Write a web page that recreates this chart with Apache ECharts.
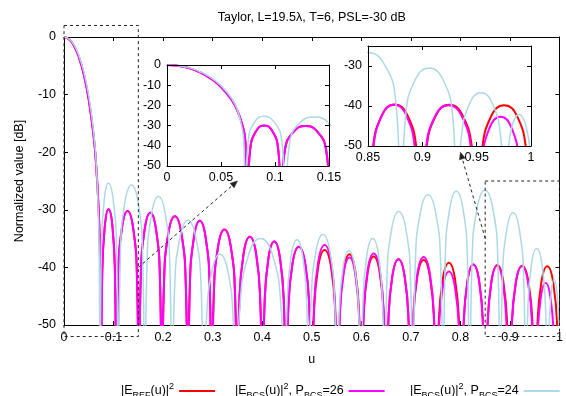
<!DOCTYPE html>
<html><head><meta charset="utf-8">
<script src="https://cdn.jsdelivr.net/npm/echarts@6/dist/echarts.min.js"></script>
<style>html,body{margin:0;padding:0;background:#fff}#c{width:566px;height:396px}</style>
</head><body><div id="c"></div>
<script>
const titleText = 'Taylor, L=19.5\u03bb, T=6, PSL=-30 dB';
const xLabel = 'u';
const yLabel = 'Normalized value [dB]';
const seriesNames = ['ref', 'bcs26', 'bcs24'];
const legendLabels = {
  ref: '|E{s|REF}(u)|{p|2}',
  bcs26: '|E{s|BCS}(u)|{p|2}, P{s|BCS}=26',
  bcs24: '|E{s|BCS}(u)|{p|2}, P{s|BCS}=24'
};
const colors = ['#ff0000', '#ff00ff', '#add8e6'];
const widths = [2, 2, 1.5];

// |E_REF(u)|^2 [u, dB]
const eRef = [
[0,0],[0.01,-0.4],[0.02,-1.5],[0.03,-3.5],[0.04,-6.5],[0.05,-10.9],[0.06,-17.4],[0.065,-22.4],[0.07,-30.1],[0.0725,-37.3],
[0.0745,-65],[0.077,-41.9],[0.0823,-32.9],[0.09,-29.9],[0.0978,-32.9],[0.103,-41.9],
[0.1055,-65],[0.1091,-42.2],[0.1169,-33.2],[0.1283,-30.2],[0.1396,-33.2],[0.1474,-42.2],
[0.151,-65],[0.1547,-42.5],[0.1626,-33.5],[0.1743,-30.5],[0.1859,-33.5],[0.1938,-42.5],
[0.1975,-65],[0.2017,-43.1],[0.2106,-34.1],[0.2238,-31.1],[0.2369,-34.1],[0.2458,-43.1],
[0.25,-65],[0.2538,-43.9],[0.262,-34.9],[0.274,-31.9],[0.286,-34.9],[0.2942,-43.9],
[0.298,-65],[0.3021,-45.4],[0.3109,-36.4],[0.3238,-33.4],[0.3366,-36.4],[0.3454,-45.4],
[0.3495,-65],[0.3536,-46.7],[0.3623,-37.7],[0.375,-34.7],[0.3878,-37.7],[0.3964,-46.7],
[0.4005,-65],[0.4043,-47.5],[0.4124,-38.5],[0.4243,-35.5],[0.4361,-38.5],[0.4442,-47.5],
[0.448,-65],[0.4521,-48.4],[0.461,-39.4],[0.4739,-36.4],[0.4869,-39.4],[0.4957,-48.4],
[0.4998,-65],[0.504,-49],[0.5129,-40],[0.5259,-37],[0.539,-40],[0.5478,-49],
[0.552,-65],[0.5558,-49.7],[0.564,-40.7],[0.576,-37.7],[0.588,-40.7],[0.5962,-49.7],
[0.6,-65],[0.604,-50.1],[0.6125,-41.1],[0.625,-38.1],[0.6375,-41.1],[0.646,-50.1],
[0.65,-65],[0.654,-50.6],[0.6625,-41.6],[0.675,-38.6],[0.6875,-41.6],[0.696,-50.6],
[0.7,-65],[0.7041,-50.7],[0.7129,-41.7],[0.7258,-38.7],[0.7386,-41.7],[0.7474,-50.7],
[0.7515,-65],[0.7555,-51.2],[0.7641,-42.2],[0.7768,-39.2],[0.7894,-42.2],[0.798,-51.2],
[0.802,-65],[0.8058,-51.5],[0.814,-42.5],[0.826,-39.5],[0.838,-42.5],[0.8462,-51.5],
[0.85,-65],[0.8539,-51.6],[0.8623,-42.6],[0.8745,-39.6],[0.8868,-42.6],[0.8951,-51.6],
[0.899,-65],[0.9031,-51.7],[0.9119,-42.7],[0.9248,-39.7],[0.9376,-42.7],[0.9464,-51.7],
[0.9505,-65],[0.9545,-51.8],[0.9629,-42.8],[0.9753,-39.8],[0.9876,-42.8],[0.996,-51.8],
[1.0,-65]
];

// |E_BCS(u)|^2, P_BCS=26 [u, dB]
const eBcs26 = [
[0,0],[0.01,-0.4],[0.02,-1.5],[0.03,-3.5],[0.04,-6.5],[0.05,-10.9],[0.06,-17.4],[0.065,-22.4],[0.07,-30.1],[0.0725,-37.3],
[0.0745,-65],[0.077,-41.9],[0.0823,-32.9],[0.09,-29.9],[0.0978,-32.9],[0.103,-41.9],
[0.1055,-65],[0.1091,-42.2],[0.1169,-33.2],[0.1283,-30.2],[0.1396,-33.2],[0.1474,-42.2],
[0.151,-65],[0.1547,-42.5],[0.1626,-33.5],[0.1743,-30.5],[0.1859,-33.5],[0.1938,-42.5],
[0.1975,-65],[0.2017,-43.1],[0.2106,-34.1],[0.2238,-31.1],[0.2369,-34.1],[0.2458,-43.1],
[0.25,-65],[0.2538,-43.9],[0.262,-34.9],[0.274,-31.9],[0.286,-34.9],[0.2942,-43.9],
[0.298,-65],[0.3021,-45.4],[0.3109,-36.4],[0.3238,-33.4],[0.3366,-36.4],[0.3454,-45.4],
[0.3495,-65],[0.3536,-46.7],[0.3623,-37.7],[0.375,-34.7],[0.3878,-37.7],[0.3964,-46.7],
[0.4005,-65],[0.4043,-47.5],[0.4124,-38.5],[0.4243,-35.5],[0.4361,-38.5],[0.4442,-47.5],
[0.448,-65],[0.4521,-48.4],[0.461,-39.4],[0.4739,-36.4],[0.4869,-39.4],[0.4957,-48.4],
[0.4998,-65],[0.504,-48.1],[0.5129,-39.1],[0.5259,-36.1],[0.539,-39.1],[0.5478,-48.1],
[0.552,-65],[0.5558,-50.3],[0.564,-41.3],[0.576,-38.3],[0.588,-41.3],[0.5962,-50.3],
[0.6,-65],[0.604,-49.6],[0.6125,-40.6],[0.625,-37.6],[0.6375,-40.6],[0.646,-49.6],
[0.65,-65],[0.654,-50.6],[0.6625,-41.6],[0.675,-38.6],[0.6875,-41.6],[0.696,-50.6],
[0.7,-65],[0.7041,-50.2],[0.7129,-41.2],[0.7258,-38.2],[0.7386,-41.2],[0.7474,-50.2],
[0.7515,-65],[0.7555,-52.7],[0.7641,-43.7],[0.7768,-40.7],[0.7894,-43.7],[0.798,-52.7],
[0.802,-65],[0.8058,-51.5],[0.814,-42.5],[0.826,-39.5],[0.838,-42.5],[0.8462,-51.5],
[0.8505,-65],[0.8543,-51.7],[0.8623,-42.7],[0.874,-39.7],[0.8858,-42.7],[0.8937,-51.7],
[0.8975,-65],[0.8985,-65],[0.9026,-51.8],[0.9113,-42.8],[0.924,-39.8],[0.9368,-42.8],[0.9454,-51.8],
[0.9495,-65],[0.951,-65],[0.9544,-54.8],[0.9615,-45.7],[0.972,-42.7],[0.9825,-45.7],[0.9896,-54.8],
[0.993,-65],[1.0,-65]
];

// |E_BCS(u)|^2, P_BCS=24 [u, dB]
const eBcs24 = [
[0,0],[0.01,-0.35],[0.02,-1.3],[0.03,-3.2],[0.04,-6.0],[0.05,-10.2],[0.06,-16.6],[0.065,-22],[0.069,-30],[0.071,-37],
[0.0725,-65],[0.0752,-37.5],[0.081,-28.4],[0.0895,-25.4],[0.0995,-28.4],[0.1063,-37.5],
[0.1095,-65],[0.1138,-37.8],[0.1229,-28.7],[0.1363,-25.7],[0.1496,-28.7],[0.1587,-37.8],
[0.163,-65],[0.1674,-39.8],[0.1768,-30.7],[0.1905,-27.7],[0.2043,-30.7],[0.2136,-39.8],
[0.218,-65],[0.2231,-43.9],[0.234,-34.8],[0.25,-31.8],[0.266,-34.8],[0.2769,-43.9],
[0.282,-65],[0.2872,-49.8],[0.2983,-40.7],[0.3145,-37.7],[0.3308,-40.7],[0.3418,-49.8],
[0.347,-65],[0.3549,-47.1],[0.3718,-38],[0.3965,-35],[0.4213,-38],[0.4381,-47.1],
[0.446,-65],[0.4498,-47.3],[0.458,-38.2],[0.47,-35.2],[0.482,-38.2],[0.4902,-47.3],
[0.494,-65],[0.4986,-46.4],[0.5083,-37.3],[0.5225,-34.3],[0.5368,-37.3],[0.5464,-46.4],
[0.551,-65],[0.5548,-49.2],[0.563,-40.1],[0.575,-37.1],[0.587,-40.1],[0.5952,-49.2],
[0.599,-65],[0.6028,-47.1],[0.611,-38],[0.623,-35],[0.635,-38],[0.6432,-47.1],
[0.647,-65],[0.6516,-42.4],[0.6613,-33.3],[0.6755,-30.3],[0.6898,-33.3],[0.6994,-42.4],
[0.704,-65],[0.7089,-39.5],[0.7193,-30.4],[0.7345,-27.4],[0.7498,-30.4],[0.7601,-39.5],
[0.765,-65],[0.7693,-38.9],[0.7784,-29.8],[0.7918,-26.8],[0.8051,-29.8],[0.8142,-38.9],
[0.8185,-65],[0.8235,-38.7],[0.834,-29.6],[0.8495,-26.6],[0.865,-29.6],[0.8755,-38.7],
[0.8805,-65],[0.8846,-42.6],[0.8934,-33.5],[0.9063,-30.5],[0.9191,-33.5],[0.9279,-42.6],
[0.932,-65],[0.9355,-48.8],[0.943,-39.7],[0.954,-36.7],[0.965,-39.7],[0.9725,-48.8],
[0.976,-65],[0.9781,-54.2],[0.9825,-45.1],[0.989,-42.1],[0.9955,-45.1],[0.9999,-54.2],
[1.002,-65]
];

const mainX = {min: 0, max: 1, interval: 0.1};
const mainY = {min: -50, max: 0, interval: 10};
const inset1X = {min: 0, max: 0.15, interval: 0.05};
const inset1Y = {min: -50, max: 0, interval: 10};
const inset2X = {min: 0.85, max: 1, interval: 0.05};
const inset2Y = {min: -50, max: -25, interval: 10};
const zoomBoxes = [[[0, -52], [0.15, 2]], [[0.85, -52], [1, -25]]];
const arrows = [[[0.15, -40], [0.35, -25]], [[0.85, -35], [0.8, -20]]];

const FONT = 'Liberation Sans, Arial, sans-serif';
const FS = 12.5;
const seriesData = [eRef, eBcs26, eBcs24];

function xAx(grid, r, pos, labels, z) {
  return {type: 'value', gridIndex: grid, position: pos, min: r.min, max: r.max, interval: r.interval, z: z,
    axisLine: {show: true, onZero: false, lineStyle: {color: '#000', width: 1}},
    axisTick: {show: true, inside: true, length: 4, lineStyle: {color: '#000'}},
    axisLabel: {show: labels, color: '#000', fontSize: FS, fontFamily: FONT, margin: 5},
    splitLine: {show: false}};
}
function yAx(grid, r, pos, labels, z) {
  return {type: 'value', gridIndex: grid, position: pos, min: r.min, max: r.max, interval: r.interval, z: z,
    axisLine: {show: true, onZero: false, lineStyle: {color: '#000', width: 1}},
    axisTick: {show: true, inside: true, length: 4, lineStyle: {color: '#000'}},
    axisLabel: {show: labels, color: '#000', fontSize: FS, fontFamily: FONT, margin: 6,
      formatter: v => (Math.abs(v % 10) < 1e-9 ? String(v) : '')},
    splitLine: {show: false}};
}

const xAxes = [
  xAx(0, mainX, 'bottom', true, 0), xAx(0, mainX, 'top', false, 0),
  xAx(1, inset1X, 'bottom', true, 7), xAx(1, inset1X, 'top', false, 7),
  xAx(2, inset2X, 'bottom', true, 7), xAx(2, inset2X, 'top', false, 7)
];
xAxes[0].name = xLabel; xAxes[0].nameLocation = 'middle'; xAxes[0].nameGap = 28;
xAxes[0].nameTextStyle = {color: '#000', fontSize: FS, fontFamily: FONT};
xAxes[0].axisLabel.margin = 6;
const yAxes = [
  yAx(0, mainY, 'left', true, 0), yAx(0, mainY, 'right', false, 0),
  yAx(1, inset1Y, 'left', true, 7), yAx(1, inset1Y, 'right', false, 7),
  yAx(2, inset2Y, 'left', true, 7), yAx(2, inset2Y, 'right', false, 7)
];
yAxes[0].name = yLabel; yAxes[0].nameLocation = 'middle'; yAxes[0].nameGap = 38;
yAxes[0].nameTextStyle = {color: '#000', fontSize: FS, fontFamily: FONT};
yAxes[0].axisLabel.margin = 8;

const series = [];
[0, 2, 4].forEach((ax, g) => {
  seriesData.forEach((d, i) => {
    series.push({
      name: seriesNames[i], type: 'line', xAxisIndex: ax, yAxisIndex: ax, data: d,
      showSymbol: false, symbol: 'none', smooth: 0.5, clip: true, z: g === 0 ? 2 : 6,
      lineStyle: {color: colors[i], width: widths[i]}, itemStyle: {color: colors[i]},
      emphasis: {disabled: true}, silent: true
    });
  });
});

const legendLeft = [116, 230, 405];
const legends = seriesNames.map((n, i) => ({
  data: [n], left: legendLeft[i], top: 377, itemWidth: 36, itemHeight: 2, itemGap: 0,
  icon: 'rect', align: 'right', selectedMode: false,
  formatter: k => legendLabels[k],
  textStyle: {color: '#000', fontSize: FS, fontFamily: FONT, lineHeight: 18,
    rich: {s: {fontSize: 9, lineHeight: 10, verticalAlign: 'bottom', fontFamily: FONT, color: '#000'},
           p: {fontSize: 9, lineHeight: 10, verticalAlign: 'top', fontFamily: FONT, color: '#000'}}}
}));

const chart = echarts.init(document.getElementById('c'), null, {renderer: 'canvas'});
chart.setOption({
  animation: false,
  backgroundColor: '#fff',
  grid: [
    {left: 64, top: 37, width: 496, height: 288, show: false},
    {left: 167, top: 65, width: 162, height: 101, show: true, backgroundColor: '#fff', borderWidth: 0, z: 5},
    {left: 368, top: 46, width: 163, height: 100, show: true, backgroundColor: '#fff', borderWidth: 0, z: 5}
  ],
  xAxis: xAxes,
  yAxis: yAxes,
  legend: legends,
  series: series
});

// annotations positioned through the main grid's scales
const px = p => chart.convertToPixel({xAxisIndex: 0, yAxisIndex: 0}, p);
const gfx = [];
const tl = px([mainX.min, mainY.max]), br = px([mainX.max, mainY.min]);
gfx.push({type: 'text', x: (tl[0] + br[0]) / 2, y: 18, z: 20,
  style: {text: titleText, align: 'center', verticalAlign: 'middle', fill: '#000', font: FS + 'px ' + FONT}});
zoomBoxes.forEach(b => {
  const a = px(b[0]), c = px(b[1]);
  gfx.push({type: 'rect', z: 10, shape: {x: Math.min(a[0], c[0]), y: Math.min(a[1], c[1]), width: Math.abs(c[0] - a[0]), height: Math.abs(c[1] - a[1])},
    style: {fill: null, stroke: '#222', lineWidth: 1, lineDash: [3, 3]}});
});
arrows.forEach(ar => {
  const a = px(ar[0]), c = px(ar[1]);
  const dx = c[0] - a[0], dy = c[1] - a[1], L = Math.hypot(dx, dy), ux = dx / L, uy = dy / L;
  const hl = 7, hw = 3;
  const bx = c[0] - ux * hl, by = c[1] - uy * hl;
  gfx.push({type: 'line', z: 10, shape: {x1: a[0], y1: a[1], x2: bx, y2: by},
    style: {stroke: '#222', lineWidth: 1, lineDash: [3, 3]}});
  gfx.push({type: 'polygon', z: 10, shape: {points: [[c[0], c[1]], [bx - uy * hw, by + ux * hw], [bx + uy * hw, by - ux * hw]]},
    style: {fill: '#222', stroke: '#222', lineWidth: 0.5}});
});
chart.setOption({graphic: gfx});
</script>
</body></html>
